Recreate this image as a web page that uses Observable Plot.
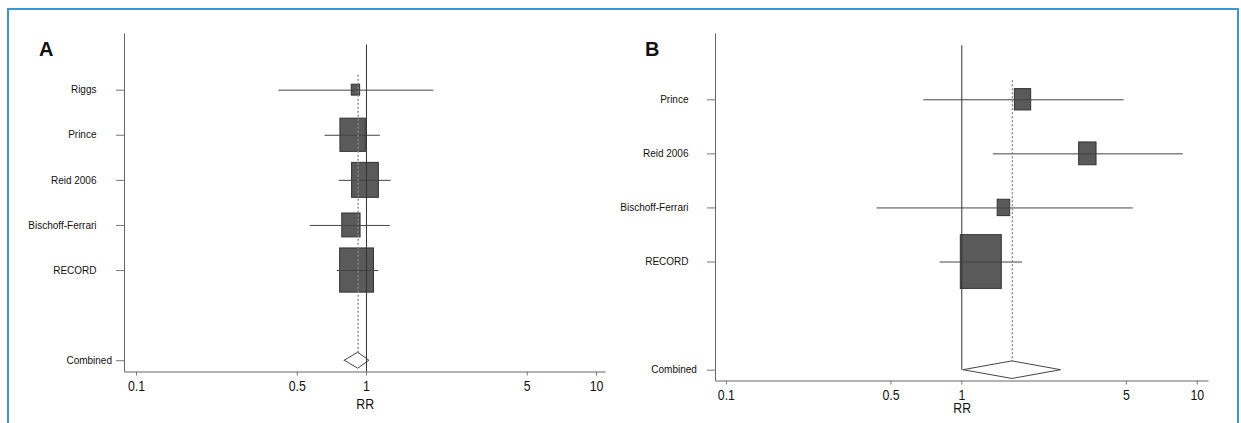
<!DOCTYPE html>
<html><head><meta charset="utf-8">
<script src="https://cdn.jsdelivr.net/npm/d3@7"></script>
<script src="https://cdn.jsdelivr.net/npm/@observablehq/plot@0.6"></script>
<style>
html,body{margin:0;padding:0;background:#fff;width:1241px;height:423px;overflow:hidden;position:relative;}
#frame{position:absolute;left:7px;top:8px;width:1232px;height:520px;border:2px solid #3b97d3;box-sizing:border-box;pointer-events:none;}
.panel{position:absolute;top:0;}
.tag{position:absolute;font:bold 20px "Liberation Sans",Arial,sans-serif;line-height:1;color:#111;}
</style></head><body>
<div id="frame"></div>
<div id="pa" class="panel" style="left:0"></div>
<div id="pb" class="panel" style="left:620px"></div>
<div class="tag" style="left:39px;top:39px">A</div>
<div class="tag" style="left:645px;top:39px">B</div>
<script>
// ---- data ----
const xTicks = [0.1, 0.5, 1, 5, 10];
const axisTitle = "RR";
const combinedLabel = "Combined";

const studiesA = ["Riggs", "Prince", "Reid 2006", "Bischoff-Ferrari", "RECORD"];
const rrA = [0.90, 0.875, 0.99, 0.86, 0.91];
const loA = [0.416, 0.66, 0.76, 0.57, 0.746];
const hiA = [1.96, 1.15, 1.28, 1.27, 1.13];
const weightA = [2.4, 22.2, 24.6, 11.5, 39.3];
const combinedA = [0.805, 0.92, 1.03]; // lo, rr, hi

const studiesB = ["Prince", "Reid 2006", "Bischoff-Ferrari", "RECORD"];
const rrB = [1.82, 3.43, 1.51, 1.21];
const loB = [0.69, 1.36, 0.437, 0.81];
const hiB = [4.89, 8.72, 5.35, 1.81];
const weightB = [11.0, 12.6, 6.5, 69.9];
const combinedB = [1.017, 1.64, 2.64];

// ---- drawing ----
function forest(cfg) {
  const {studies, rr, lo, hi, weight, comb} = cfg;
  const n = studies.length;
  const combRow = n + 2;
  const rows = studies.map((s, i) => ({label: s, row: i + 1, rr: rr[i], lo: lo[i], hi: hi[i], w: weight[i]}));
  const pxPerDecade = (cfg.width - cfg.ml - cfg.mr) / Math.log10(cfg.xdom[1] / cfg.xdom[0]);
  const pxPerRow = (cfg.height - cfg.mt - cfg.mb) / (cfg.ydom[1] - cfg.ydom[0]);
  const hw = d => Math.pow(10, (cfg.kw * Math.sqrt(d.w) / 2) / pxPerDecade);
  const hh = d => (cfg.kh * Math.sqrt(d.w) / 2) / pxPerRow;
  const dh = cfg.diamondPx / pxPerRow;
  const diamond = [
    {x: comb[0], y1: combRow, y2: combRow},
    {x: comb[1], y1: combRow - dh, y2: combRow + dh},
    {x: comb[2], y1: combRow, y2: combRow}
  ];
  const bottom = cfg.ydom[1];
  return Plot.plot({
    width: cfg.width, height: cfg.height,
    marginLeft: cfg.ml, marginRight: cfg.mr, marginTop: cfg.mt, marginBottom: cfg.mb,
    style: {background: "transparent", overflow: "visible", fontFamily: "'Liberation Sans',Arial,sans-serif", color: "#222"},
    x: {type: "log", domain: cfg.xdom, axis: null},
    y: {domain: [cfg.ydom[1], cfg.ydom[0]]},
    marks: [
      Plot.rect(rows, {
        x1: d => d.rr / hw(d), x2: d => d.rr * hw(d),
        y1: d => d.row - hh(d), y2: d => d.row + hh(d),
        fill: "#5a5a5a", stroke: "#333", strokeWidth: 1
      }),
      Plot.ruleY(rows, {y: "row", x1: "lo", x2: "hi", stroke: "#444", strokeWidth: 1}),
      Plot.ruleX([comb[1]], {y1: cfg.dotStart, y2: combRow, stroke: "#888", strokeWidth: 1.4, strokeDasharray: "2,2"}),
      Plot.areaY(diamond, {x: "x", y1: "y1", y2: "y2", fill: "white", stroke: "#444", strokeWidth: 1, curve: "linear"}),
      Plot.ruleX([1], {y1: 0, y2: cfg.oneEnd, stroke: "#333", strokeWidth: 1}),
      Plot.ruleX([cfg.xdom[0]], {stroke: "#666", strokeWidth: 1}),
      Plot.ruleY([bottom], {stroke: "#666", strokeWidth: 1}),
      Plot.axisY(rows.map(d => d.row), {
        tickFormat: r => studies[r - 1], tickSize: 8, tickPadding: cfg.studyPad,
        fontSize: 10, stroke: "#777", fill: "#111"
      }),
      Plot.axisY([combRow], {
        tickFormat: () => combinedLabel, tickSize: 8, tickPadding: cfg.combPad,
        fontSize: 10, stroke: "#777", fill: "#111"
      }),
      // x axis ticks and labels
      Plot.ruleX(xTicks, {x: d => d, y1: bottom, y2: bottom, insetBottom: -4, stroke: "#777", strokeWidth: 1}),
      Plot.text(xTicks, {
        x: d => d, text: d => String(d), frameAnchor: "bottom", lineAnchor: "top",
        dy: 4 + cfg.xPad, fontSize: 14, fill: "#111", className: "narrow"
      }),
      Plot.text([axisTitle], {
        frameAnchor: "bottom", lineAnchor: "top", dy: cfg.titleDy,
        fontSize: 14, fill: "#111", text: d => d, className: "narrow"
      })
    ]
  });
}

function narrow(svg, k) {
  svg.querySelectorAll(".narrow text").forEach(t => {
    const len = t.getComputedTextLength();
    if (len > 0) {
      t.setAttribute("textLength", (len * k).toFixed(2));
      t.setAttribute("lengthAdjust", "spacingAndGlyphs");
    }
  });
}

const svgA = forest({
  studies: studiesA, rr: rrA, lo: loA, hi: hiA, weight: weightA, comb: combinedA,
  width: 620, height: 423, ml: 124, mr: 14.5, mt: 33.3, mb: 51.5,
  xdom: [0.0887, 11.0], ydom: [-0.25, 7.25],
  kw: 5.4, kh: 7.05, diamondPx: 8, dotStart: 0.67, oneEnd: 7.25,
  studyPad: 20, combPad: 4.5, xPad: 4.8, titleDy: 26.6
});
document.getElementById("pa").append(svgA);
narrow(svgA, 0.88);

const svgB = forest({
  studies: studiesB, rr: rrB, lo: loB, hi: hiB, weight: weightB, comb: combinedB,
  width: 617, height: 423, ml: 95, mr: 28.5, mt: 33.3, mb: 42.5,
  xdom: [0.0899, 11.22], ydom: [-0.22, 6.2],
  kw: 4.9, kh: 6.43, diamondPx: 8.8, dotStart: 0.65, oneEnd: 6,
  studyPad: 19, combPad: 10.6, xPad: 5.5, titleDy: 22.5
});
document.getElementById("pb").append(svgB);
narrow(svgB, 0.88);
</script>
</body></html>
